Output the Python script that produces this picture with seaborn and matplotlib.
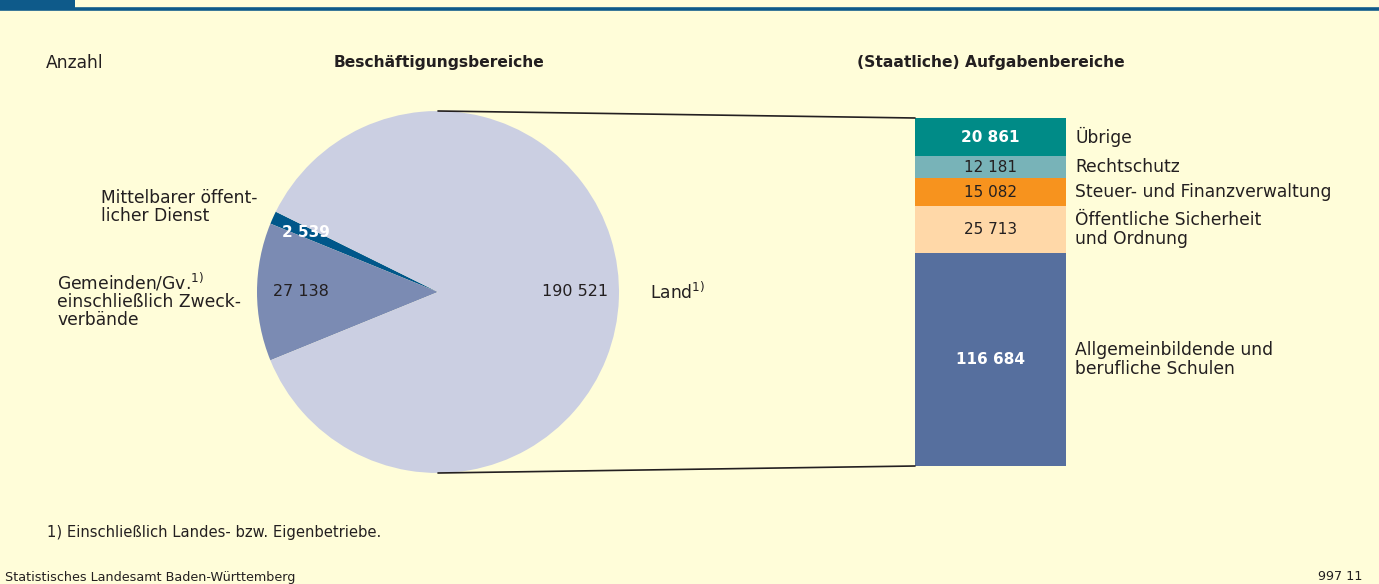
import matplotlib
matplotlib.use("Agg")
import matplotlib.pyplot as plt
import seaborn as sns
import numpy as np
import pandas as pd
from matplotlib.patches import ConnectionPatch, Rectangle
from matplotlib.lines import Line2D

# ---- data ----
pie_labels = ["Mittelbarer öffent-\nlicher Dienst",
              "Gemeinden/Gv.$^{\\mathregular{1)}}$\neinschließlich Zweck-\nverbände",
              "Land$^{\\mathregular{1)}}$"]
pie_values = [2539, 27138, 190521]
pie_value_texts = ["2 539", "27 138", "190 521"]
pie_colors = ["#00578A", "#7B8BB3", "#CBCFE2"]

bar_labels = ["Allgemeinbildende und\nberufliche Schulen",
              "Öffentliche Sicherheit\nund Ordnung",
              "Steuer- und Finanzverwaltung",
              "Rechtschutz",
              "Übrige"]
bar_values = [116684, 25713, 15082, 12181, 20861]
bar_value_texts = ["116 684", "25 713", "15 082", "12 181", "20 861"]
bar_colors = ["#566F9E", "#FFD8A8", "#F7931E", "#78B3B8", "#008B87"]
bar_text_white = [True, False, False, False, True]

BG = "#FFFDD9"
TXT = "#231F20"
LBL = 12.3

sns.set_theme(style="white")
plt.rcParams["font.family"] = ["DejaVu Sans"]

W, H = 1379, 584
fig = plt.figure(figsize=(W / 100, H / 100), dpi=100)
fig.patch.set_facecolor(BG)

def fx(px):
    return px / W

def fy(py):
    return 1 - py / H

# top decoration
fig.add_artist(Line2D([0, 1], [fy(9), fy(9)], transform=fig.transFigure,
                      color="#0E5A8A", lw=2.6))
fig.add_artist(Rectangle((0, fy(9)), fx(75), 9 / H, transform=fig.transFigure,
                         color="#0E5A8A", lw=0))

# ---- pie ----
cx, cy, r = 438, 292, 181
ax_pie = fig.add_axes([fx(cx - r), fy(cy + r), 2 * r / W, 2 * r / H])
ax_pie.set_facecolor("none")
frac = np.array(pie_values) / np.sum(pie_values)
start = 180 - frac[1] * 180 - frac[0] * 360
ax_pie.pie(pie_values, colors=pie_colors, startangle=start, counterclock=True,
           radius=1, wedgeprops=dict(linewidth=0))
ax_pie.set_xlim(-1, 1)
ax_pie.set_ylim(-1, 1)
ax_pie.set_aspect("equal")
ax_pie.axis("off")

# pie value labels
ax_pie.text(-0.73, 0.33, pie_value_texts[0], color="white", fontsize=11,
            fontweight="bold", ha="center", va="center")
ax_pie.text(-0.76, 0.0, pie_value_texts[1], color=TXT, fontsize=11.5,
            ha="center", va="center")
ax_pie.text(0.76, 0.0, pie_value_texts[2], color=TXT, fontsize=11.5,
            ha="center", va="center")

# pie category labels (figure pixel coords)
fig.text(fx(101), fy(207), pie_labels[0], color=TXT, fontsize=LBL,
         ha="left", va="center", linespacing=1.02)
fig.text(fx(57), fy(300), pie_labels[1], color=TXT, fontsize=LBL,
         ha="left", va="center", linespacing=1.02)
fig.text(fx(650), fy(292), pie_labels[2], color=TXT, fontsize=LBL,
         ha="left", va="center")

# ---- stacked bar ----
bx0, bx1, by0, by1 = 915, 1066, 118, 466
ax_bar = fig.add_axes([fx(bx0), fy(by1), (bx1 - bx0) / W, (by1 - by0) / H])
ax_bar.set_facecolor("none")
df = pd.DataFrame({"cat": ["A"] * len(bar_values), "val": bar_values,
                   "label": bar_labels})
bottoms = np.concatenate([[0], np.cumsum(bar_values)[:-1]])
for i, row in df.iterrows():
    sns.barplot(x=[row["cat"]], y=[row["val"]], bottom=bottoms[i],
                color=bar_colors[i], saturation=1, width=1.0, ax=ax_bar,
                linewidth=0, errorbar=None)
total = np.sum(bar_values)
ax_bar.set_xlim(-0.5, 0.5)
ax_bar.set_ylim(0, total)
ax_bar.axis("off")

for i in range(len(bar_values)):
    yc = bottoms[i] + bar_values[i] / 2
    ax_bar.text(0, yc, bar_value_texts[i],
                color="white" if bar_text_white[i] else TXT,
                fontweight="bold" if bar_text_white[i] else "normal",
                fontsize=11, ha="center", va="center")
    ax_bar.text(1.06, yc, bar_labels[i], transform=ax_bar.get_yaxis_transform(),
                color=TXT, fontsize=LBL, ha="left", va="center", linespacing=1.02)

# connector lines
for ypie, ybar in [(1, total), (-1, 0)]:
    con = ConnectionPatch(xyA=(0, ypie), coordsA=ax_pie.transData,
                          xyB=(-0.5, ybar), coordsB=ax_bar.transData,
                          color="#231F20", lw=1.2)
    fig.add_artist(con)

# titles
fig.text(fx(46), fy(63), "Anzahl", color=TXT, fontsize=LBL, ha="left", va="center")
fig.text(fx(439), fy(63), "Beschäftigungsbereiche", color=TXT, fontsize=11.2,
         fontweight="bold", ha="center", va="center")
fig.text(fx(991), fy(63), "(Staatliche) Aufgabenbereiche", color=TXT, fontsize=11.2,
         fontweight="bold", ha="center", va="center")

# footnote and footer
fig.text(fx(47), fy(532), "1) Einschließlich Landes- bzw. Eigenbetriebe.",
         color=TXT, fontsize=10.6, ha="left", va="center")
fig.text(fx(5), fy(577), "Statistisches Landesamt Baden-Württemberg",
         color=TXT, fontsize=9.2, ha="left", va="center")
fig.text(fx(1362), fy(577), "997 11", color=TXT, fontsize=9.2,
         ha="right", va="center")

fig.savefig("out.png", dpi=100, facecolor=BG)
